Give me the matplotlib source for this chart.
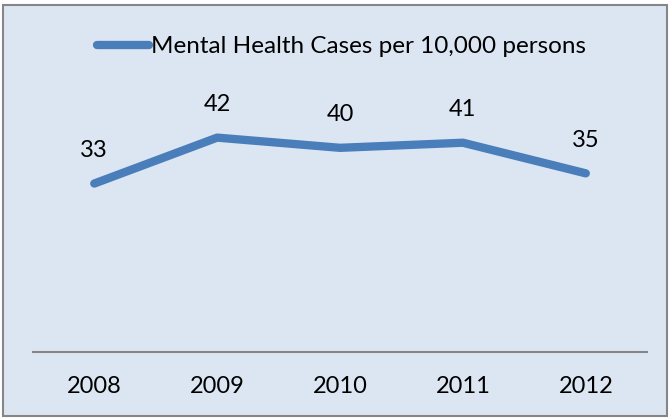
import matplotlib.pyplot as plt
from matplotlib.patches import Rectangle

plt.rcParams['font.family'] = ['Lato', 'DejaVu Sans']

years = ['2008', '2009', '2010', '2011', '2012']
cases = [33, 42, 40, 41, 35]
series_name = 'Mental Health Cases per 10,000 persons'

bg = '#dce6f2'
line_color = '#4a7ebb'

fig = plt.figure(figsize=(6.7, 4.19), dpi=100)
fig.patch.set_facecolor('white')
fig.patches.append(Rectangle((0.004, 0.007), 0.992, 0.981, transform=fig.transFigure,
                             facecolor=bg, edgecolor='#868686', linewidth=1.5, zorder=0))

ax = fig.add_axes([0.049, 0.16, 0.917, 0.609])
ax.set_zorder(2)
ax.set_facecolor('none')
x = list(range(len(years)))
ax.plot(x, cases, color=line_color, linewidth=6, solid_capstyle='round',
        solid_joinstyle='round', label=series_name)
for xi, v in zip(x, cases):
    ax.annotate(str(v), (xi, v), xytext=(0, 24), textcoords='offset points',
                ha='center', va='center', fontsize=17)

ax.set_xlim(-0.5, 4.5)
ax.set_ylim(0, 50)
ax.set_xticks(x)
ax.set_xticklabels(years, fontsize=17)
ax.tick_params(axis='x', length=0, pad=17)
ax.set_yticks([])
for s in ['top', 'left', 'right']:
    ax.spines[s].set_visible(False)
ax.spines['bottom'].set_color('#868686')
ax.spines['bottom'].set_linewidth(1.5)

leg = fig.legend(loc='center', bbox_to_anchor=(0.51, 0.888), frameon=False,
                 fontsize=17.5, handlelength=2.1, handletextpad=0.1)
leg.set_zorder(3)

fig.savefig('out.png', dpi=100)
